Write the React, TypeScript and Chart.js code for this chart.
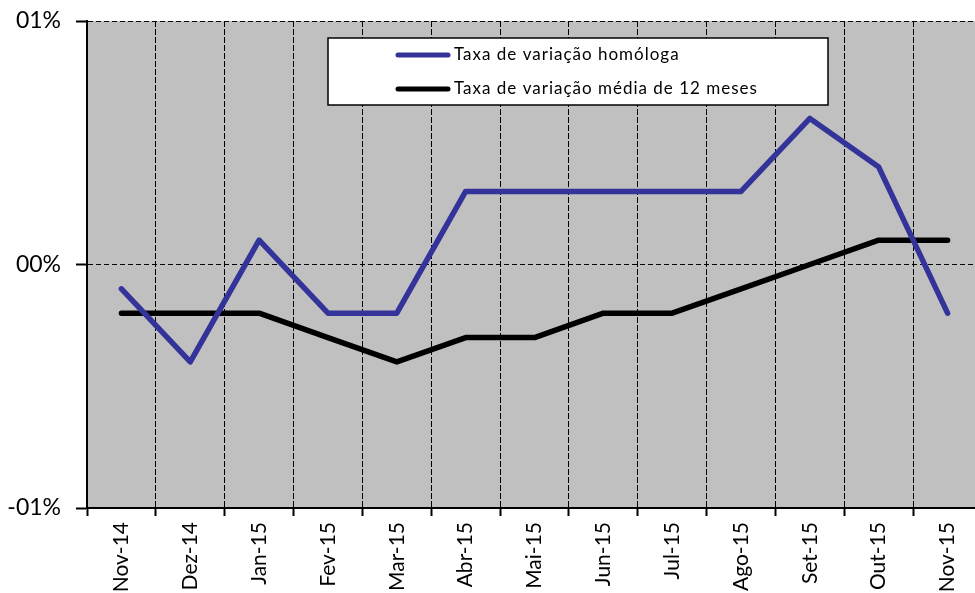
import React, { useEffect, useRef } from "react";
import { Chart, registerables } from "chart.js";

Chart.register(...registerables);

const categories = ["Nov-14", "Dez-14", "Jan-15", "Fev-15", "Mar-15", "Abr-15", "Mai-15", "Jun-15", "Jul-15", "Ago-15", "Set-15", "Out-15", "Nov-15"];
const homologa = [-0.1, -0.4, 0.1, -0.2, -0.2, 0.3, 0.3, 0.3, 0.3, 0.3, 0.6, 0.4, -0.2];
const media12 = [-0.2, -0.2, -0.2, -0.3, -0.4, -0.3, -0.3, -0.2, -0.2, -0.1, 0.0, 0.1, 0.1];
const seriesNames = ["Taxa de variação homóloga", "Taxa de variação média de 12 meses"];
const seriesColors = ["#333399", "#000000"];

const FONT = "Lato, 'Noto Sans', sans-serif";

function fmtTick(v: number): string {
  const a = Math.abs(Math.round(v));
  const s = (a < 10 ? "0" : "") + a + "%";
  return v < 0 ? "-" + s : s;
}

const bgPlugin = {
  id: "bgPlugin",
  beforeDraw(chart: any) {
    const { ctx, chartArea } = chart;
    ctx.save();
    ctx.fillStyle = "#C0C0C0";
    ctx.fillRect(chartArea.left, chartArea.top, chartArea.right - chartArea.left, chartArea.bottom - chartArea.top);
    ctx.restore();
  },
};

const legendPlugin = {
  id: "boxLegend",
  afterDraw(chart: any) {
    const { ctx } = chart;
    const x = 328, y = 38, w = 500, h = 67;
    ctx.save();
    ctx.fillStyle = "#ffffff";
    ctx.fillRect(x, y, w, h);
    ctx.strokeStyle = "#000";
    ctx.lineWidth = 1.5;
    ctx.strokeRect(x, y, w, h);
    const rows = [55, 89];
    seriesNames.forEach((name, i) => {
      ctx.strokeStyle = seriesColors[i];
      ctx.lineWidth = 5;
      ctx.lineCap = "round";
      ctx.beginPath();
      ctx.moveTo(398, rows[i]);
      ctx.lineTo(448, rows[i]);
      ctx.stroke();
      ctx.fillStyle = "#000";
      ctx.font = "17px " + FONT;
      (ctx as any).letterSpacing = "1px";
      ctx.textBaseline = "middle";
      ctx.textAlign = "left";
      ctx.fillText(name, 454, rows[i]);
    });
    ctx.restore();
  },
};

export default function App() {
  const ref = useRef<HTMLCanvasElement>(null);
  useEffect(() => {
    if (!ref.current) return;
    const chart = new Chart(ref.current, {
      type: "line",
      data: {
        labels: categories,
        datasets: [
          {
            label: seriesNames[0],
            data: homologa,
            borderColor: seriesColors[0],
            borderWidth: 5.5,
            pointRadius: 0,
            borderCapStyle: "round",
            borderJoinStyle: "round",
            tension: 0,
          },
          {
            label: seriesNames[1],
            data: media12,
            borderColor: seriesColors[1],
            borderWidth: 5.5,
            pointRadius: 0,
            borderCapStyle: "round",
            borderJoinStyle: "round",
            tension: 0,
          },
        ],
      },
      options: {
        animation: false,
        responsive: false,
        layout: { padding: { top: 21, right: 0, left: 0, bottom: 0 } },
        plugins: { legend: { display: false }, tooltip: { enabled: false } },
        scales: {
          x: {
            offset: true,
            grid: {
              offset: true,
              color: "#000",
              lineWidth: 1,
              tickLength: 8,
              tickColor: "#000",
              tickWidth: 2,
            },
            border: { display: true, color: "#000", width: 2, dash: [6, 2] },
            ticks: {
              color: "#000",
              font: { family: FONT, size: 21 },
              minRotation: 90,
              maxRotation: 90,
              padding: 6,
              autoSkip: false,
            },
            afterFit(scale: any) {
              scale.height = 85;
              scale.paddingLeft = 0;
              scale.paddingRight = 0;
            },
          },
          y: {
            min: -1,
            max: 1,
            grid: {
              color: "#000",
              lineWidth: 1,
              tickLength: 11,
              tickColor: "#000",
              tickWidth: 2,
            },
            border: { display: true, color: "#000", width: 2, dash: [5, 3] },
            ticks: {
              stepSize: 1,
              color: "#000",
              font: { family: FONT, size: 23 },
              padding: 15,
              callback: (v: any) => fmtTick(Number(v)),
            },
            afterFit(scale: any) {
              scale.width = 87;
              scale.paddingTop = 0;
              scale.paddingBottom = 0;
            },
          },
        },
      },
      plugins: [bgPlugin, legendPlugin],
    });
    return () => chart.destroy();
  }, []);
  return (
    <div style={{ position: "fixed", left: 0, top: 0, width: 975, height: 593, overflow: "hidden", background: "#fff" }}>
      <canvas ref={ref} width={982} height={593} style={{ width: 982, height: 593, display: "block" }} />
    </div>
  );
}
